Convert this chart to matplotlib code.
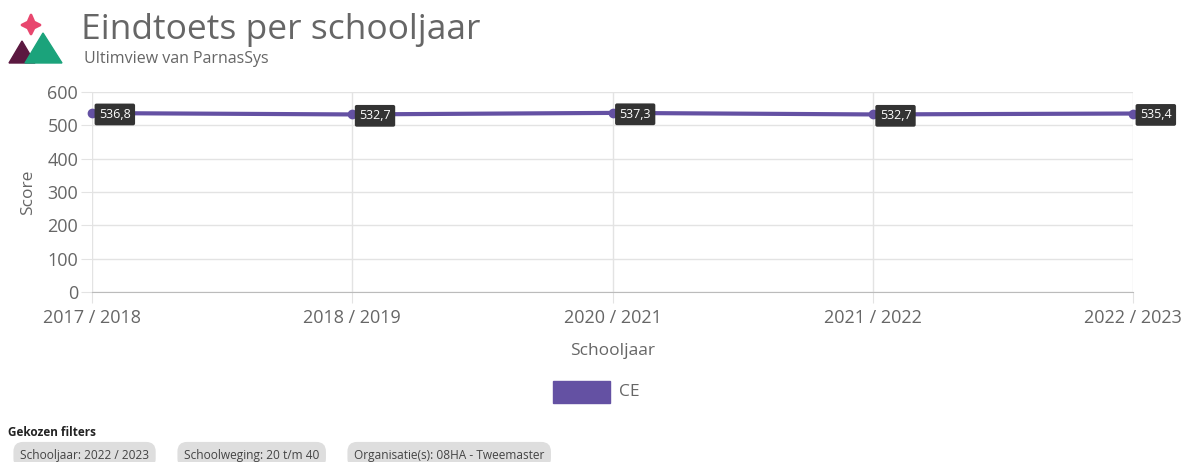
import matplotlib.pyplot as plt
from matplotlib.patches import Polygon

plt.rcParams["font.family"] = ["Open Sans", "DejaVu Sans"]

schooljaren = ["2017 / 2018", "2018 / 2019", "2020 / 2021", "2021 / 2022", "2022 / 2023"]
scores = [536.8, 532.7, 537.3, 532.7, 535.4]
serie_naam = "CE"
filters = ["Schooljaar: 2022 / 2023", "Schoolweging: 20 t/m 40",
           "Organisatie(s): 08HA - Tweemaster"]

paars = "#6451a3"
grijs = "#666666"

W, H = 1191, 462
fig = plt.figure(figsize=(W / 100, H / 100), dpi=100)


def fx(px):
    return px / W


def fy(py):
    return 1 - py / H


# logo
fig.patches.append(Polygon([(fx(9), fy(63)), (fx(22), fy(41)), (fx(35), fy(63))],
                           closed=True, color="#5b1840", transform=fig.transFigure))
fig.patches.append(Polygon([(fx(25), fy(63)), (fx(43), fy(33)), (fx(62), fy(63))],
                           closed=True, color="#1ba37b", transform=fig.transFigure))
cx, cy = 31, 25
ster = [(cx, cy - 10), (cx + 3, cy - 3), (cx + 9, cy), (cx + 3, cy + 3),
        (cx, cy + 9), (cx - 3, cy + 3), (cx - 9, cy), (cx - 3, cy - 3)]
fig.patches.append(Polygon([(fx(a), fy(b)) for a, b in ster], closed=True,
                           color="#e8476e", transform=fig.transFigure, joinstyle="round",
                           lw=2))

fig.text(fx(81), fy(30), "Eindtoets per schooljaar", fontsize=25.5, color=grijs,
         va="center", ha="left")
fig.text(fx(84), fy(59), "Ultimview van ParnasSys", fontsize=11.5, color=grijs,
         va="center", ha="left")

ax = fig.add_axes([fx(92), fy(292), fx(1133) - fx(92), fy(92) - fy(292)])
x = list(range(len(schooljaren)))
ax.plot(x, scores, color=paars, lw=3, marker="o", ms=6, zorder=3, clip_on=False)
for xi, s in zip(x, scores):
    ax.annotate(f"{s:.1f}".replace(".", ","), (xi, s), xytext=(5, -1),
                textcoords="offset points", ha="left", va="center",
                fontsize=9, color="white", zorder=4,
                bbox=dict(boxstyle="round,pad=0.35,rounding_size=0.15",
                          fc="#333333", ec="none"))

ax.set_ylim(0, 600)
ax.set_xlim(0, len(schooljaren) - 1)
ax.set_yticks(range(0, 601, 100))
ax.set_xticks(x)
ax.set_xticklabels(schooljaren)
ax.grid(True, color="#e3e3e3", lw=1)
ax.set_axisbelow(True)
for k in ["top", "right", "left"]:
    ax.spines[k].set_visible(False)
ax.spines["bottom"].set_color("#bbbbbb")
ax.tick_params(axis="y", length=8, color="#e3e3e3", labelsize=13, labelcolor=grijs, pad=2)
ax.tick_params(axis="x", length=8, color="#e3e3e3", labelsize=13, labelcolor=grijs, pad=4)
ax.set_xlabel("Schooljaar", fontsize=12.5, color=grijs, labelpad=12)
ax.set_ylabel("Score", fontsize=12.5, color=grijs, labelpad=8)

# legenda
fig.patches.append(plt.Rectangle((fx(553), fy(403)), fx(610) - fx(553), fy(381) - fy(403),
                                 color=paars, transform=fig.transFigure))
fig.text(fx(619), fy(392), serie_naam, fontsize=12.5, color=grijs, va="center", ha="left")

# gekozen filters
fig.text(fx(8), fy(432), "Gekozen filters", fontsize=8.5, fontweight="bold",
         color="#222222", va="center", ha="left")
px = [20, 184, 354]
for p, f in zip(px, filters):
    fig.text(fx(p), fy(455), f, fontsize=8.6, color="#444444", va="center", ha="left",
             bbox=dict(boxstyle="round,pad=0.55,rounding_size=0.8", fc="#dedede", ec="none"))

fig.savefig("out.png", dpi=100)
